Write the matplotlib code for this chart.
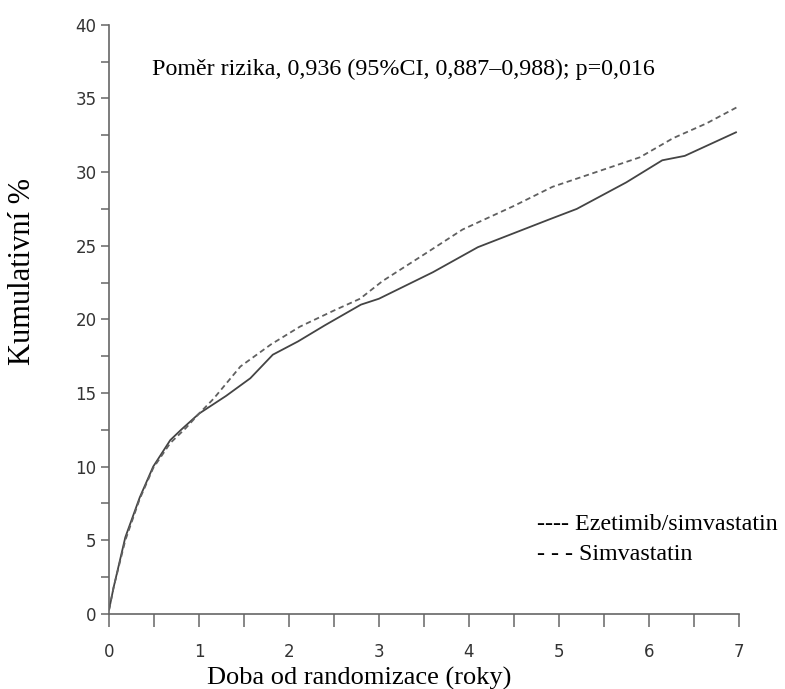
#!/usr/bin/env python3

import matplotlib
matplotlib.use('Agg')
import matplotlib.pyplot as plt
from matplotlib.ticker import MultipleLocator

# Ezetimib/simvastatin (solid)
ez_x = [0, 0.05, 0.18, 0.34, 0.49, 0.68, 0.8, 1.0, 1.3, 1.57, 1.82, 2.1, 2.4, 2.8,
        3.0, 3.6, 4.1, 4.9, 5.2, 5.75, 6.15, 6.4, 6.97]
ez_y = [0.3, 1.8, 5.2, 7.9, 10.0, 11.8, 12.5, 13.6, 14.8, 16.0, 17.6, 18.5, 19.6, 21.0,
        21.4, 23.2, 24.9, 26.8, 27.5, 29.3, 30.8, 31.1, 32.7]

# Simvastatin (dashed)
sim_x = [0, 0.05, 0.18, 0.34, 0.49, 0.68, 0.85, 1.0, 1.16, 1.46, 1.8, 2.12, 2.5, 2.79,
         3.04, 3.5, 3.93, 4.5, 4.93, 5.27, 5.9, 6.27, 6.64, 6.98]
sim_y = [0.3, 1.8, 5.0, 7.8, 9.9, 11.6, 12.6, 13.6, 14.6, 16.8, 18.3, 19.5, 20.6, 21.4,
         22.6, 24.4, 26.1, 27.7, 29.0, 29.7, 31.0, 32.3, 33.3, 34.4]

x_ticks = [0, 1, 2, 3, 4, 5, 6, 7]
y_ticks = [0, 5, 10, 15, 20, 25, 30, 35, 40]

annotation = 'Poměr rizika, 0,936 (95%CI, 0,887–0,988); p=0,016'
legend_lines = ['---- Ezetimib/simvastatin', '- - - Simvastatin']

serif = 'Liberation Serif'

fig = plt.figure(figsize=(7.85, 6.89), dpi=100)
ax = fig.add_axes([0.139, 0.109, 0.802, 0.855])

ax.plot(ez_x, ez_y, color='#444444', linewidth=1.3, linestyle='-')
ax.plot(sim_x, sim_y, color='#606060', linewidth=1.3, linestyle=(0, (3, 2)))

ax.set_xlim(0, 7)
ax.set_ylim(0, 40)
ax.set_xticks(x_ticks)
ax.set_yticks(y_ticks)
ax.xaxis.set_minor_locator(MultipleLocator(0.5))
ax.yaxis.set_minor_locator(MultipleLocator(2.5))

for side in ['top', 'right']:
    ax.spines[side].set_visible(False)
for side in ['left', 'bottom']:
    ax.spines[side].set_color('#666666')
    ax.spines[side].set_linewidth(1.2)

ax.tick_params(axis='x', which='both', direction='out', length=9, width=1.1,
               color='#666666', labelsize=12, labelcolor='#333333', pad=12)
ax.tick_params(axis='y', which='both', direction='out', length=6, width=1.1,
               color='#666666', labelsize=12, labelcolor='#333333', pad=3)

ax.set_xlabel('Doba od randomizace (roky)', fontsize=19, family=serif)
ax.xaxis.label.set_va('center')
ax.xaxis.set_label_coords(0.397, -0.109)
ax.set_ylabel('Kumulativní %', fontsize=22, family=serif)
ax.yaxis.label.set_va('center')
ax.yaxis.set_label_coords(-0.138, 0.582)

ax.text(0.48, 37.0, annotation, fontsize=17.3, family=serif, va='center', ha='left')
ax.text(4.76, 6.05, legend_lines[0], fontsize=17.3, family=serif, va='center', ha='left')
ax.text(4.76, 4.0, legend_lines[1], fontsize=17.3, family=serif, va='center', ha='left')

fig.savefig('out.png', dpi=100)
